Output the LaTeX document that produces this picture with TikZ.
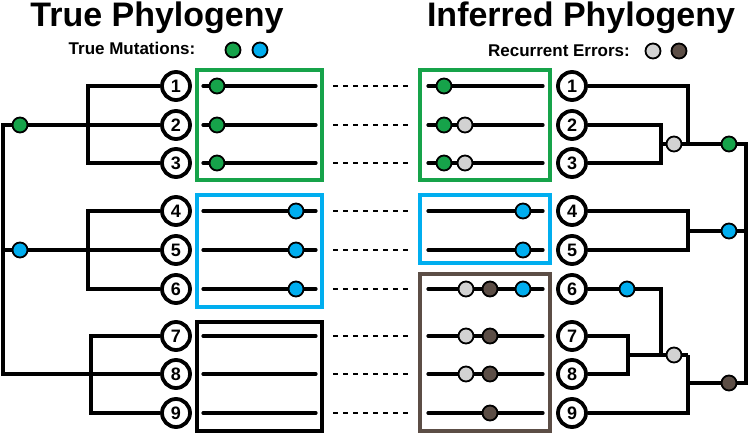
\documentclass[tikz,border=0pt]{standalone}
\usepackage{fontspec}
\setmainfont{Liberation Sans}
\definecolor{mutgreen}{RGB}{22,163,74}
\definecolor{mutblue}{RGB}{0,174,239}
\definecolor{errgray}{RGB}{210,210,210}
\definecolor{errbrown}{RGB}{92,78,70}
\tikzset{
  leaf/.style={
    circle, draw, line width=3.8pt, fill=white,
    minimum size=28pt, inner sep=0pt,
    font=\fontsize{18}{18}\selectfont\bfseries
  },
  mut/.style={
    circle, draw, line width=1.8pt, fill=#1,
    minimum size=15pt, inner sep=0pt
  },
  branch/.style={line width=3.6pt, line join=miter},
  seqline/.style={line width=3.2pt, line cap=round},
  grpbox/.style={draw=#1, line width=3.8pt},
  linkline/.style={line width=1.2pt, dash pattern=on 5pt off 5pt},
  titletext/.style={font=\fontsize{34}{34}\selectfont\bfseries, inner sep=0pt, anchor=base},
  legendtext/.style={font=\fontsize{17}{17}\selectfont\bfseries, inner sep=0pt, anchor=base},
}
\begin{document}
\begin{tikzpicture}[x=1pt, y=-1pt]
  \useasboundingbox (0,0) rectangle (750,433);

  % titles and legends
  \node[titletext] (ttrue) at (157,27) {True Phylogeny};
  \node[titletext] (tinf)  at (581,27) {Inferred Phylogeny};
  \node[legendtext] (ltrue) at (132,55) {True Mutations:};
  \node[mut=mutgreen] (lgreen) at (233,50) {};
  \node[mut=mutblue]  (lblue)  at (260,50) {};
  \node[legendtext] (linf) at (559,57) {Recurrent Errors:};
  \node[mut=errgray]  (lgray)  at (653,51) {};
  \node[mut=errbrown] (lbrown) at (679,51) {};

  % group boxes
  \draw[grpbox=mutgreen] (197,70)  rectangle (322,180);
  \draw[grpbox=mutblue]  (197,195) rectangle (322,307);
  \draw[grpbox=black]    (197,322) rectangle (322,431);
  \draw[grpbox=mutgreen] (420,70)  rectangle (550,180);
  \draw[grpbox=mutblue]  (420,195) rectangle (550,263);
  \draw[grpbox=errbrown] (420,274) rectangle (550,431);

  % leaves, sequences and links
  \foreach \i/\y in {1/86,2/125,3/163,4/211,5/250,6/289,7/336,8/374,9/413}{
    \node[leaf] (L\i) at (176,\y) {\i};
    \node[leaf] (R\i) at (572,\y) {\i};
    \coordinate (sl\i) at (203,\y);
    \coordinate (el\i) at (316,\y);
    \coordinate (sr\i) at (428,\y);
    \coordinate (er\i) at (543,\y);
    \coordinate (da\i) at (333,\y);
    \coordinate (db\i) at (410,\y);
    \draw[seqline] (sl\i) -- (el\i);
    \draw[seqline] (sr\i) -- (er\i);
    \draw[linkline] (da\i) -- (db\i);
  }

  % true tree
  \coordinate (ta) at (88,125);
  \coordinate (tb) at (88,250);
  \coordinate (tc) at (91,374);
  \coordinate (troot) at (3,125);
  \coordinate (tmid) at (3,250);
  \draw[branch] (L1.west) -| (ta) |- (L3.west);
  \draw[branch] (L4.west) -| (tb) |- (L6.west);
  \draw[branch] (L7.west) -| (tc) |- (L9.west);
  \draw[branch] (L2.west) -- (troot) |- (L8.west);
  \draw[branch] (L5.west) -- (tmid);
  \node[mut=mutgreen] (tg) at (20,125) {};
  \node[mut=mutblue]  (tbl) at (20,250) {};

  % inferred tree
  \coordinate (ia) at (661,144);
  \coordinate (ib) at (688,144);
  \coordinate (ic) at (688,231);
  \coordinate (id) at (628,355);
  \coordinate (ie) at (661,355);
  \coordinate (if) at (688,355);
  \coordinate (ig) at (688,383);
  \coordinate (itop) at (746,144);
  \coordinate (imid) at (746,231);
  \coordinate (ibot) at (746,383);
  \draw[branch] (R2.east) -| (ia) |- (R3.east);
  \draw[branch] (R1.east) -| (ib);
  \draw[branch] (ia) -- (itop) -- (ibot) -- (ig);
  \draw[branch] (R4.east) -| (ic) |- (R5.east);
  \draw[branch] (ic) -- (imid);
  \draw[branch] (R6.east) -| (ie);
  \draw[branch] (R7.east) -| (id) |- (R8.east);
  \draw[branch] (id) -- (if);
  \draw[branch] (R9.east) -| (if);
  \node[mut=errgray]  (ig1) at (674,144) {};
  \node[mut=mutgreen] (ig2) at (729,144) {};
  \node[mut=mutblue]  (ib1) at (729,231) {};
  \node[mut=mutblue]  (ib2) at (627,289) {};
  \node[mut=errgray]  (ig3) at (674,355) {};
  \node[mut=errbrown] (ibr) at (729,383) {};

  % mutations on true sequences
  \foreach \i in {1,2,3}{\node[mut=mutgreen] (mg\i) at (217,0|-sl\i) {};}
  \foreach \i in {4,5,6}{\node[mut=mutblue] (mb\i) at (296,0|-sl\i) {};}

  % mutations on inferred sequences
  \foreach \i in {1,2,3}{\node[mut=mutgreen] (ng\i) at (444,0|-sr\i) {};}
  \foreach \i in {2,3}{\node[mut=errgray] (ne\i) at (465,0|-sr\i) {};}
  \foreach \i in {4,5,6}{\node[mut=mutblue] (nb\i) at (523,0|-sr\i) {};}
  \foreach \i in {6,7,8}{\node[mut=errgray] (ne\i) at (466,0|-sr\i) {};}
  \foreach \i in {6,7,8,9}{\node[mut=errbrown] (nr\i) at (490,0|-sr\i) {};}
\end{tikzpicture}
\end{document}
